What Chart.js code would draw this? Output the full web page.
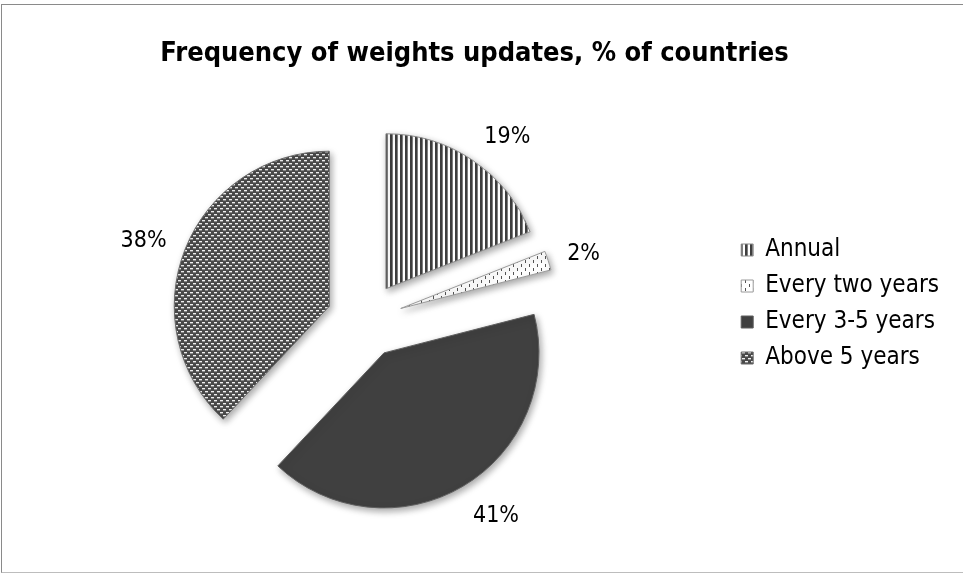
<!DOCTYPE html>
<html>
<head>
<meta charset="utf-8">
<script src="https://cdn.jsdelivr.net/npm/chart.js@4"></script>
<style>
  html, body { margin: 0; padding: 0; background: #fff; overflow: hidden; }
  #wrap { position: relative; width: 963px; height: 574px; }
  #frame { position: absolute; left: 1px; top: 4px; width: 990px; height: 567px;
           border-left: 1px solid #8a8a8a; border-top: 1px solid #8a8a8a; border-bottom: 1px solid #bdbdbd;
           pointer-events: none; }
</style>
</head>
<body>
<div id="wrap">
  <canvas id="c" width="963" height="574"></canvas>
  <div id="frame"></div>
</div>
<script>
const categories = ['Annual', 'Every two years', 'Every 3-5 years', 'Above 5 years'];
const shares = [19, 2, 41, 38];
const chartTitle = 'Frequency of weights updates, % of countries';

const FONT = '"Liberation Sans Narrow", "DejaVu Sans Condensed", "Arial Narrow", sans-serif';

function makePattern(w, h, draw) {
  const cv = document.createElement('canvas');
  cv.width = w; cv.height = h;
  const g = cv.getContext('2d');
  draw(g, w, h);
  return document.getElementById('c').getContext('2d').createPattern(cv, 'repeat');
}
// vertical stripes
const pStripes = makePattern(5, 5, (g, w, h) => {
  g.fillStyle = '#ffffff'; g.fillRect(0, 0, w, h);
  g.fillStyle = '#3e3e3e'; g.fillRect(0, 0, 2, h);
  g.fillStyle = '#808080'; g.fillRect(2, 0, 1, h);
});
// sparse small dashes
const pDashes = makePattern(8, 8, (g, w, h) => {
  g.fillStyle = '#ffffff'; g.fillRect(0, 0, w, h);
  g.fillStyle = '#555555';
  g.fillRect(1, 0, 1, 3);
  g.fillRect(5, 4, 1, 3);
});
// weave / checker
const pWeave = makePattern(6, 6, (g, w, h) => {
  g.fillStyle = '#4a4a4a'; g.fillRect(0, 0, w, h);
  g.fillStyle = '#f0f0f0';
  g.fillRect(1, 1, 3, 1);
  g.fillRect(4, 4, 2, 1); g.fillRect(0, 4, 1, 1);
  g.fillStyle = '#8a8a8a';
  g.fillRect(1, 2, 3, 1);
  g.fillRect(4, 5, 2, 1); g.fillRect(0, 5, 1, 1);
});
const fills = [pStripes, pDashes, '#404040', pWeave];

const EXPLODE = 38;

const explodePlugin = {
  id: 'explode',
  afterDatasetUpdate(chart, args) {
    args.meta.data.forEach(arc => {
      const mid = (arc.startAngle + arc.endAngle) / 2;
      arc.x += Math.cos(mid) * EXPLODE;
      arc.y += Math.sin(mid) * EXPLODE;
    });
  },
  beforeDatasetDraw(chart) {
    const ctx = chart.ctx;
    ctx.save();
    ctx.shadowColor = 'rgba(0,0,0,0.35)';
    ctx.shadowBlur = 7;
    ctx.shadowOffsetX = 2;
    ctx.shadowOffsetY = 3;
  },
  afterDatasetDraw(chart) {
    chart.ctx.restore();
  }
};

const LABEL_SIZE = 23;
const labelPlugin = {
  id: 'outLabels',
  afterDatasetsDraw(chart) {
    const ctx = chart.ctx;
    const meta = chart.getDatasetMeta(0);
    const ds = chart.data.datasets[0].data;
    ctx.save();
    ctx.font = LABEL_SIZE + 'px ' + FONT;
    ctx.fillStyle = '#000';
    ctx.textAlign = 'center';
    ctx.textBaseline = 'middle';
    meta.data.forEach((arc, i) => {
      const txt = ds[i] + '%';
      const w = ctx.measureText(txt).width;
      const mid = (arc.startAngle + arc.endAngle) / 2;
      const c = Math.cos(mid), s = Math.sin(mid);
      const d = arc.outerRadius + 20;
      const x = arc.x + c * d + Math.sign(c) * w / 2;
      const y = arc.y + s * d + s * LABEL_SIZE / 2 + 3;
      ctx.fillText(txt, x, y);
    });
    ctx.restore();
  }
};

new Chart(document.getElementById('c'), {
  type: 'pie',
  data: {
    labels: categories,
    datasets: [{
      data: shares,
      backgroundColor: fills,
      borderColor: ['#8a8a8a', '#9a9a9a', '#5e5e5e', '#6a6a6a'],
      borderWidth: 1
    }]
  },
  options: {
    responsive: false,
    animation: false,
    radius: 155,
    layout: { padding: { left: 0, right: 14, top: 0, bottom: 4 } },
    plugins: {
      tooltip: { enabled: false },
      title: {
        display: true,
        text: chartTitle,
        color: '#000',
        font: { family: FONT, size: 27, weight: 'bold', lineHeight: 1.2 },
        padding: { top: 38, bottom: 0 }
      },
      legend: {
        position: 'right',
        align: 'start',
        title: { display: true, text: '', font: { size: 10, lineHeight: 1 }, padding: { top: 216, bottom: 0 } },
        labels: {
          color: '#000',
          font: { family: FONT, size: 24 },
          boxWidth: 12,
          boxHeight: 12,
          padding: 12
        }
      }
    }
  },
  plugins: [explodePlugin, labelPlugin]
});
</script>
</body>
</html>
